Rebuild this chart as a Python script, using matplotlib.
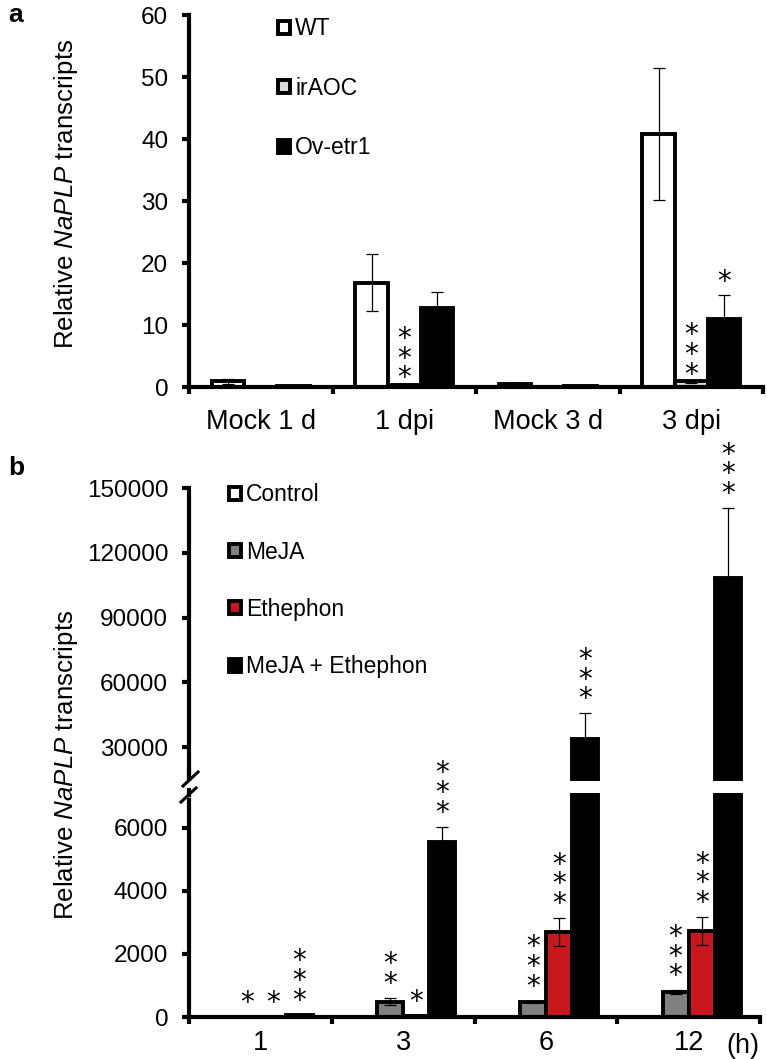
import numpy as np
import matplotlib
matplotlib.use('Agg')
import matplotlib.pyplot as plt
from matplotlib.patches import Patch
from matplotlib.lines import Line2D

plt.rcParams['font.family'] = ['Liberation Sans', 'DejaVu Sans']
plt.rcParams['mathtext.fontset'] = 'custom'
plt.rcParams['mathtext.rm'] = 'Liberation Sans'
plt.rcParams['mathtext.it'] = 'Liberation Sans:italic'

# Panel a data
a_groups = ['Mock 1 d', '1 dpi', 'Mock 3 d', '3 dpi']
a_names = ['WT', 'irAOC', 'Ov-etr1']
wt = [0.9, 16.8, 0.5, 40.8]
wt_err = [0.4, 4.6, 0.1, 10.6]
iraoc = [0.05, 0.4, 0.05, 0.9]
iraoc_err = [0.02, 0.1, 0.02, 0.2]
ov = [0.2, 12.7, 0.2, 10.9]
ov_err = [0.05, 2.6, 0.05, 4.0]
a_stars = {(1, 1): '*\n*\n*', (1, 3): '*\n*\n*', (2, 3): '*'}

# Panel b data
hours = ['1', '3', '6', '12']
b_names = ['Control', 'MeJA', 'Ethephon', 'MeJA + Ethephon']
control = [1, 5, 10, 10]
meja = [10, 490, 475, 790]
meja_err = [3, 110, 40, 60]
eth = [12, 20, 2690, 2720]
eth_err = [3, 5, 450, 450]
comb = [60, 5550, 33700, 108300]
comb_err = [15, 480, 12000, 32400]
b_stars = {(1, 0): '*', (2, 0): '*', (3, 0): '*\n*\n*',
           (1, 1): '*\n*', (2, 1): '*', (3, 1): '*\n*\n*',
           (1, 2): '*\n*\n*', (2, 2): '*\n*\n*', (3, 2): '*\n*\n*',
           (1, 3): '*\n*\n*', (2, 3): '*\n*\n*', (3, 3): '*\n*\n*'}

W, H = 767, 1059
fig = plt.figure(figsize=(W / 100, H / 100), dpi=100)


def px_axes(left, top, right, bottom):
    return fig.add_axes([left / W, 1 - bottom / H, (right - left) / W, (bottom - top) / H])


EDGE = 2.8
SPINE = 3.0
FS = 16.5      # legend text
YT = 17.5      # y tick labels
XT = 19.5      # x tick labels


def style(ax, xpad, bottom=True):
    for s in ['right', 'top']:
        ax.spines[s].set_visible(False)
    ax.spines['left'].set_linewidth(SPINE)
    ax.spines['bottom'].set_linewidth(SPINE)
    ax.spines['bottom'].set_visible(bottom)
    ax.tick_params(axis='y', direction='out', length=5, width=SPINE, labelsize=YT, pad=10)
    ax.tick_params(axis='x', which='major', direction='out', length=5, width=SPINE, labelbottom=False)
    ax.tick_params(axis='x', which='minor', length=0, labelsize=XT, pad=xpad)


def stars(ax, x, y, s, dy=3):
    ax.annotate(s, xy=(x, y), xytext=(0, dy), textcoords='offset points',
                ha='center', va='bottom', fontsize=20, linespacing=0.62,
                family='DejaVu Sans', clip_on=False, annotation_clip=False)


# ---------- panel a ----------
ax = px_axes(189, 15, 763, 387)
x = np.arange(len(a_groups))
w = 0.227
ebar = dict(ecolor='black', elinewidth=0.9, capsize=4, capthick=0.9)
series_a = [(wt, wt_err, 'white'), (iraoc, iraoc_err, '#d9d9d9'), (ov, ov_err, 'black')]
for i, (vals, errs, col) in enumerate(series_a):
    ax.bar(x + (i - 1) * w, vals, w, yerr=errs, color=col, edgecolor='black',
           linewidth=EDGE, error_kw=ebar, zorder=2)
for (si, gi), s in a_stars.items():
    vals, errs, _ = series_a[si]
    stars(ax, gi + (si - 1) * w, vals[gi] + errs[gi], s, dy=-6 if si == 1 else -1)
ax.set_xlim(-0.5, 3.5)
ax.set_ylim(0, 60)
ax.set_yticks(range(0, 61, 10))
ax.set_xticks(np.arange(-0.5, 4, 1))
ax.set_xticks(x, minor=True)
ax.set_xticklabels(a_groups, minor=True)
style(ax, xpad=16)
handles = [Patch(facecolor=c, edgecolor='black', linewidth=EDGE) for _, _, c in series_a]
ax.legend(handles, a_names, loc='upper left', bbox_to_anchor=(269 / W, 1 - 8 / H),
          bbox_transform=fig.transFigure, frameon=False, fontsize=FS,
          handlelength=0.5, handleheight=0.5, handletextpad=0.25, labelspacing=1.6,
          borderaxespad=0)
fig.text(8 / W, 1 - 15 / H, 'a', fontsize=19, fontweight='bold', va='center', ha='left')
fig.text(66 / W, 1 - 194 / H, 'Relative $\\it{NaPLP}$ transcripts', rotation=90,
         fontsize=18.6, ha='center', va='center')

# ---------- panel b (broken axis) ----------
axu = px_axes(189, 488, 760, 781)
axl = px_axes(189, 793, 760, 1017)
xb = np.arange(len(hours))
wb = 0.183
series_b = [(control, [0] * 4, 'white'), (meja, meja_err, '#808080'),
            (eth, eth_err, '#c8161d'), (comb, comb_err, 'black')]
for a in (axu, axl):
    for i, (vals, errs, col) in enumerate(series_b):
        a.bar(xb + (i - 1.5) * wb, vals, wb, yerr=errs if i else None, color=col,
              edgecolor='black', linewidth=EDGE, error_kw=ebar, zorder=2)
    a.set_xlim(-0.5, 3.5)
    a.set_xticks(np.arange(-0.5, 4, 1))
axu.set_ylim(14300, 150000)
axu.set_yticks(range(30000, 150001, 30000))
axl.set_ylim(0, 7100)
axl.set_yticks(range(0, 6001, 2000))
axl.set_xticks(xb, minor=True)
axl.set_xticklabels(hours, minor=True)
style(axu, xpad=9, bottom=False)
axu.tick_params(axis='x', which='both', length=0, labelbottom=False)
style(axl, xpad=9)

for (si, gi), s in b_stars.items():
    vals, errs, _ = series_b[si]
    top = vals[gi] + errs[gi]
    target = axu if top > 7100 else axl
    stars(target, gi + (si - 1.5) * wb, top, s, dy=0)

handles_b = [Patch(facecolor=c, edgecolor='black', linewidth=EDGE) for _, _, c in series_b]
axu.legend(handles_b, b_names, loc='upper left', bbox_to_anchor=(220 / W, 1 - 474 / H),
           bbox_transform=fig.transFigure, frameon=False, fontsize=FS,
           handlelength=0.5, handleheight=0.5, handletextpad=0.25, labelspacing=1.5,
           borderaxespad=0)

# break marks on the y axis
fig.add_artist(Line2D([189 / W, 189 / W], [1 - 777 / H, 1 - 795 / H],
                      color='white', linewidth=4, transform=fig.transFigure))
for x0, y0, x1, y1 in [(183, 786, 198, 772), (181, 802, 196, 788)]:
    fig.add_artist(Line2D([x0 / W, x1 / W], [1 - y0 / H, 1 - y1 / H],
                          color='black', linewidth=2.2, transform=fig.transFigure))
fig.add_artist(Line2D([189 / W, 189 / W], [1 - 779 / H, 1 - 770 / H],
                      color='black', linewidth=SPINE, transform=fig.transFigure))
fig.add_artist(Line2D([189 / W, 189 / W], [1 - 795 / H, 1 - 790 / H],
                      color='black', linewidth=SPINE, transform=fig.transFigure))

fig.text(743 / W, 1 - 1046 / H, '(h)', fontsize=XT, ha='center', va='center')
fig.text(8 / W, 1 - 468 / H, 'b', fontsize=19, fontweight='bold', va='center', ha='left')
fig.text(66 / W, 1 - 765 / H, 'Relative $\\it{NaPLP}$ transcripts', rotation=90,
         fontsize=18.6, ha='center', va='center')

fig.savefig('out.png', dpi=100)
